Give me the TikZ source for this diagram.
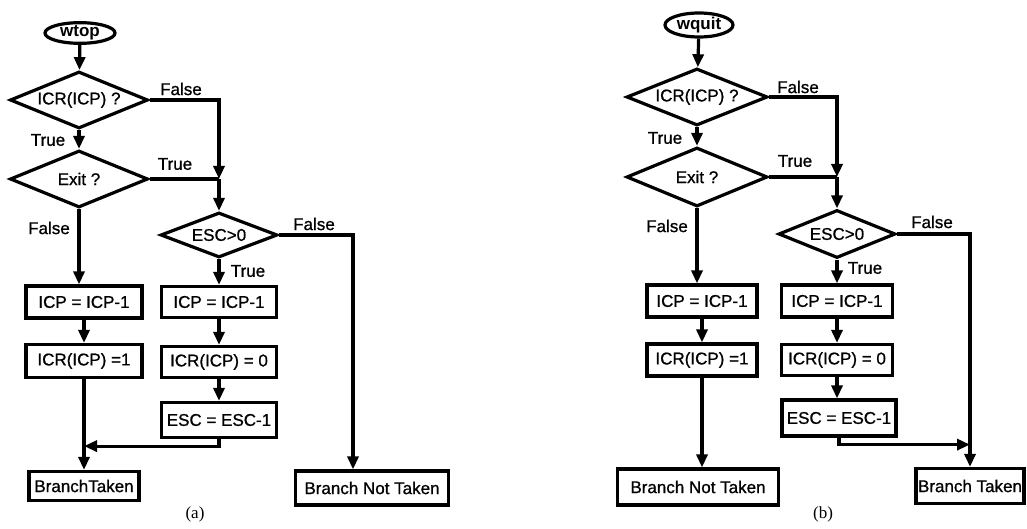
\documentclass[tikz,border=0pt]{standalone}
\usepackage{fontspec}
\setmainfont{Liberation Sans}
\newfontfamily\flowfont{Liberation Sans}[FakeBold=0.9]
\newfontfamily\capfont{Liberation Serif}
\usetikzlibrary{shapes.geometric,arrows.meta}

\begin{document}
\begin{tikzpicture}[x=1pt,y=-1pt,
  every path/.style={line width=3.2pt},
  font=\flowfont\fontsize{17}{20}\selectfont,
  start/.style = {ellipse,draw,inner sep=0pt,minimum width=70pt,minimum height=20pt,
        font=\fontsize{17}{20}\selectfont\bfseries},
  decide/.style = {diamond,draw,aspect=2.4,inner sep=0pt,
        minimum width=138pt,minimum height=57pt},
  box/.style = {draw,inner sep=0pt,minimum width=116pt,minimum height=32pt},
  lbl/.style = {inner sep=0pt},
  arr/.style = {-{Triangle[length=13pt,width=11pt]}}]
 \useasboundingbox (0,0) rectangle (1027,529);

 % (a) wtop
 \node[start] (wa) at (80,33) {wtop};
 \node[decide] (qa1) at (79,100) {ICR(ICP) ?};
 \node[decide] (qa2) at (79,179) {Exit ?};
 \node[decide,minimum width=117pt,minimum height=45pt] (qa3) at (219,235) {ESC>0};
 \node[box] (la1) at (84,302) {ICP = ICP-1};
 \node[box,minimum height=33pt] (la2) at (84,361) {ICR(ICP) =1};
 \node[box,minimum width=110pt,minimum height=29pt] (la3) at (84,486) {BranchTaken};
 \node[box,minimum width=115pt,minimum height=31pt] (ra1) at (219,302) {ICP = ICP-1};
 \node[box,minimum width=115pt,minimum height=31pt] (ra2) at (219,362) {ICR(ICP) = 0};
 \node[box,minimum width=115pt,minimum height=35pt] (ra3) at (219,420) {ESC = ESC-1};
 \node[box,minimum width=153pt,minimum height=34pt] (ra4) at (372,488) {Branch Not Taken};
 \node[lbl] (fa1) at (181,89) {False};
 \node[lbl] (ta1) at (48,140) {True};
 \node[lbl] (ta2) at (175,164) {True};
 \node[lbl] (fa2) at (49,228) {False};
 \node[lbl] (fa3) at (314,224) {False};
 \node[lbl] (ta3) at (248,271) {True};
 \node[lbl,font=\capfont\fontsize{17}{19}\selectfont] (capa) at (195,514) {(a)};

 \coordinate (ja) at (qa2.east -| qa3.north);
 \draw[arr] (wa) -- (qa1);
 \draw[arr] (qa1) -- (qa2);
 \draw[arr] (qa1.east) -| (ja);
 \draw (qa2.east) -- (ja);
 \draw[arr] (ja) -- (qa3.north);
 \draw[arr] (qa2.south) -- (qa2.south |- la1.north);
 \draw[arr] (la1) -- (la2);
 \draw[arr] (la2) -- (la3);
 \draw[arr] (qa3) -- (ra1);
 \draw[arr] (ra1) -- (ra2);
 \draw[arr] (ra2) -- (ra3);
 \draw[arr] (ra3.south) -- ++(0,7) coordinate (ma) -- (ma -| la2.south);
 \draw[arr] (qa3.east) -| ([xshift=-19pt]ra4.north);

 % (b) wquit
 \node[start,minimum width=68pt,minimum height=24pt] (wb) at (699,25) {wquit};
 \node[decide,minimum width=141pt] (qb1) at (697,97) {ICR(ICP) ?};
 \node[decide,minimum width=141pt,minimum height=59pt] (qb2) at (697,177) {Exit ?};
 \node[decide,minimum width=117pt,minimum height=48pt] (qb3) at (837,234) {ESC>0};
 \node[box,minimum width=110pt] (lb1) at (702,301) {ICP = ICP-1};
 \node[box,minimum width=110pt] (lb2) at (702,360) {ICR(ICP) =1};
 \node[box,minimum width=161pt,minimum height=36pt] (lb3) at (698,487) {Branch Not Taken};
 \node[box,minimum width=111pt] (rb1) at (837,301) {ICP = ICP-1};
 \node[box,minimum width=111pt,minimum height=31pt] (rb2) at (837,360) {ICR(ICP) = 0};
 \node[box,minimum width=114pt,minimum height=36pt] (rb3) at (839,418) {ESC = ESC-1};
 \node[box,minimum width=108pt,minimum height=35pt] (rb4) at (970,486) {Branch Taken};
 \node[lbl] (fb1) at (798,87) {False};
 \node[lbl] (tb1) at (665,138) {True};
 \node[lbl] (tb2) at (795,161) {True};
 \node[lbl] (fb2) at (667,226) {False};
 \node[lbl] (fb3) at (932,222) {False};
 \node[lbl] (tb3) at (865,268) {True};
 \node[lbl,font=\capfont\fontsize{17}{19}\selectfont] (capb) at (823,514) {(b)};

 \coordinate (jb) at (qb2.east -| qb3.north);
 \draw[arr] (wb) -- (qb1);
 \draw[arr] (qb1) -- (qb2);
 \draw[arr] (qb1.east) -| (jb);
 \draw (qb2.east) -- (jb);
 \draw[arr] (jb) -- (qb3.north);
 \draw[arr] (qb2.south) -- (qb2.south |- lb1.north);
 \draw[arr] (lb1) -- (lb2);
 \draw[arr] (lb2) -- (lb2 |- lb3.north);
 \draw[arr] (qb3) -- (rb1);
 \draw[arr] (rb1) -- (rb2);
 \draw[arr] (rb2) -- (rb2 |- rb3.north);
 \draw[arr] (rb3.south) -- ++(0,7) coordinate (mb) -- (mb -| rb4.north);
 \draw[arr] (qb3.east) -| (rb4.north);
\end{tikzpicture}
\end{document}
